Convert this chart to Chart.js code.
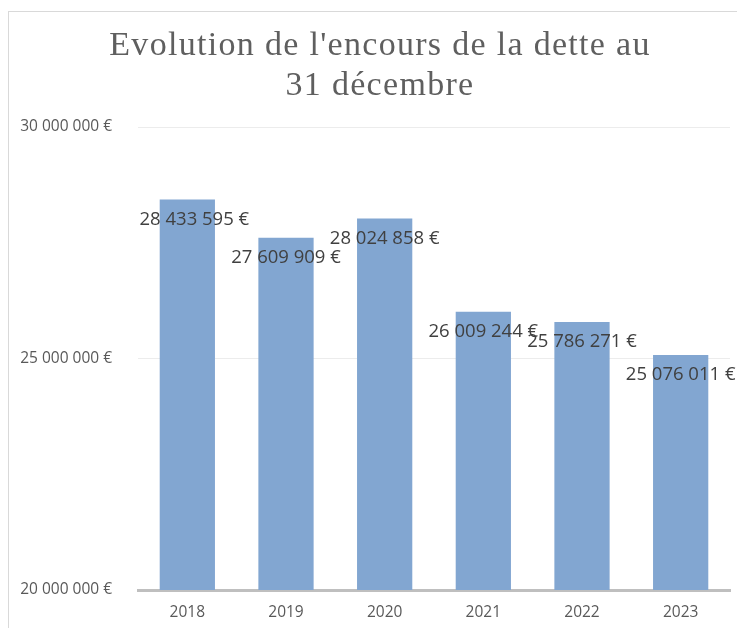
<!DOCTYPE html>
<html>
<head>
<meta charset="utf-8">
<script src="https://cdn.jsdelivr.net/npm/chart.js@4"></script>
<style>
  body { margin: 0; background: #fff; overflow: hidden; }
  .frame { position: absolute; left: 8px; top: 11px; width: 760px; height: 640px; border: 1px solid #d9d9d9; }
  #wrap { position: absolute; left: 0; top: 0; width: 737px; height: 628px; }
</style>
</head>
<body>
<div class="frame"></div>
<div id="wrap"><canvas id="debtChart"></canvas></div>
<script>
// Data
const years = ['2018', '2019', '2020', '2021', '2022', '2023'];
const encours = [28433595, 27609909, 28024858, 26009244, 25786271, 25076011];
const yTicks = [20000000, 25000000, 30000000];
const titleLines = ["Evolution de l'encours de la dette au", '31 décembre'];

const textGrey = '#595959';
const barBlue = '#82a6d1';

// French style number: 28 433 595 €
function euro(v) {
    return String(Math.round(v)).replace(/\B(?=(\d{3})+(?!\d))/g, ' ') + ' €';
}

// Title drawn by hand so it can get the loose letter spacing of the original
const spacedTitle = {
    id: 'spacedTitle',
    afterDraw(chart) {
        const ctx = chart.ctx;
        ctx.save();
        ctx.font = "34px 'Liberation Serif', serif";
        ctx.fillStyle = '#5f5f5f';
        ctx.letterSpacing = '1.3px';
        ctx.textAlign = 'center';
        ctx.textBaseline = 'middle';
        titleLines.forEach((line, i) => ctx.fillText(line, 380, 46 + i * 40));
        ctx.restore();
    }
};

// Excel-like data labels sitting just under the bar top
const barLabels = {
    id: 'barLabels',
    afterDatasetsDraw(chart) {
        const ctx = chart.ctx;
        const meta = chart.getDatasetMeta(0);
        ctx.save();
        ctx.font = "18.5px 'Open Sans', sans-serif";
        ctx.fillStyle = '#404040';
        ctx.textAlign = 'center';
        ctx.textBaseline = 'middle';
        meta.data.forEach((bar, i) => {
            // first label is pushed right, as in the original
            const dx = i === 0 ? 7 : 0;
            ctx.fillText(euro(encours[i]), bar.x + dx, bar.y + 20);
        });
        ctx.restore();
    }
};

new Chart(document.getElementById('debtChart'), {
    type: 'bar',
    data: {
        labels: years,
        datasets: [{
            data: encours,
            backgroundColor: barBlue,
            categoryPercentage: 1,
            barPercentage: 0.56
        }]
    },
    options: {
        responsive: true,
        maintainAspectRatio: false,
        animation: false,
        layout: { padding: { left: 12, right: 7, top: 127, bottom: 0 } },
        plugins: {
            legend: { display: false },
            tooltip: { enabled: false },
            title: { display: false }
        },
        scales: {
            x: {
                afterFit(scale) { scale.height = 38; },
                grid: { display: false, drawTicks: false },
                border: { display: true, color: '#bfbfbf', width: 3 },
                ticks: { color: textGrey, font: { family: "'Open Sans', sans-serif", size: 15.5 }, padding: 13 }
            },
            y: {
                min: 20000000,
                max: 30000000,
                afterBuildTicks(scale) {
                    scale.ticks = yTicks.map(v => ({ value: v }));
                },
                afterFit(scale) { scale.width = 126; },
                grid: { color: '#ececec', drawTicks: false },
                border: { display: false },
                ticks: {
                    color: textGrey,
                    font: { family: "'Open Sans', sans-serif", size: 15.5 },
                    padding: 26,
                    callback: v => euro(v)
                }
            }
        }
    },
    plugins: [barLabels, spacedTitle]
});
</script>
</body>
</html>
